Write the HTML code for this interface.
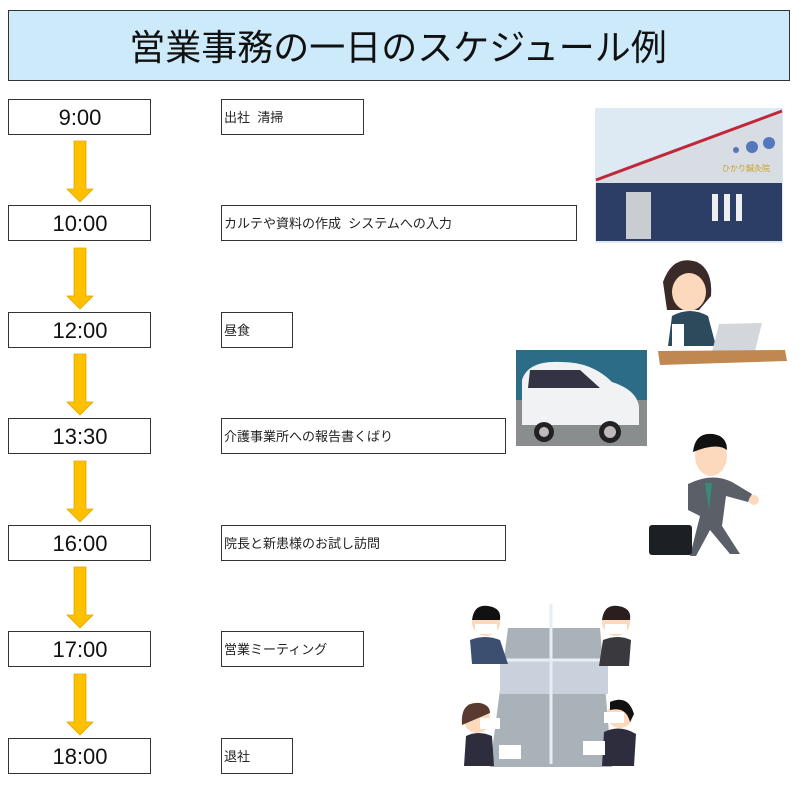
<!DOCTYPE html>
<html><head><meta charset="utf-8">
<style>
html,body{margin:0;padding:0;background:#fff;}
body{width:799px;height:786px;overflow:hidden;position:relative;font-family:"Liberation Sans","Noto Sans CJK JP",sans-serif;}
svg text{font-family:"Liberation Sans","Noto Sans CJK JP",sans-serif;}
</style></head><body>
<svg width="799" height="786" viewBox="0 0 799 786" xmlns="http://www.w3.org/2000/svg">
<rect x="8.5" y="10.5" width="781" height="70" fill="#cdeafb" stroke="#333" stroke-width="1"/>
<text x="398" y="60" font-size="36" text-anchor="middle" fill="#111">営業事務の一日のスケジュール例</text>

<g stroke="#333" stroke-width="1" fill="#fff">
<rect x="8.5" y="99.5" width="142" height="35"/>
<rect x="8.5" y="205.5" width="142" height="35"/>
<rect x="8.5" y="312.5" width="142" height="35"/>
<rect x="8.5" y="418.5" width="142" height="35"/>
<rect x="8.5" y="525.5" width="142" height="35"/>
<rect x="8.5" y="631.5" width="142" height="35"/>
<rect x="8.5" y="738.5" width="142" height="35"/>
<rect x="221.5" y="99.5" width="142" height="35"/>
<rect x="221.5" y="205.5" width="355" height="35"/>
<rect x="221.5" y="312.5" width="71" height="35"/>
<rect x="221.5" y="418.5" width="284" height="35"/>
<rect x="221.5" y="525.5" width="284" height="35"/>
<rect x="221.5" y="631.5" width="142" height="35"/>
<rect x="221.5" y="738.5" width="71" height="35"/>
</g>
<g font-size="22" text-anchor="middle" fill="#111">
<text x="80" y="125">9:00</text>
<text x="80" y="231">10:00</text>
<text x="80" y="338">12:00</text>
<text x="80" y="444">13:30</text>
<text x="80" y="551">16:00</text>
<text x="80" y="657">17:00</text>
<text x="80" y="764">18:00</text>
</g>
<g font-size="13" fill="#222">
<text x="224" y="122">出社&#160;&#160;清掃</text>
<text x="224" y="228">カルテや資料の作成&#160;&#160;システムへの入力</text>
<text x="224" y="335">昼食</text>
<text x="224" y="441">介護事業所への報告書くばり</text>
<text x="224" y="548">院長と新患様のお試し訪問</text>
<text x="224" y="654">営業ミーティング</text>
<text x="224" y="761">退社</text>
</g>
<g fill="#ffc000" stroke="#e0a800" stroke-width="0.8">
<path d="M74,141 h12 v48 h7 l-13,13 l-13,-13 h7 z"/>
<path d="M74,248 h12 v48 h7 l-13,13 l-13,-13 h7 z"/>
<path d="M74,354 h12 v48 h7 l-13,13 l-13,-13 h7 z"/>
<path d="M74,461 h12 v48 h7 l-13,13 l-13,-13 h7 z"/>
<path d="M74,567 h12 v48 h7 l-13,13 l-13,-13 h7 z"/>
<path d="M74,674 h12 v48 h7 l-13,13 l-13,-13 h7 z"/>
</g>

<!-- building -->
<rect x="595" y="108" width="188" height="135" fill="#dde9f3"/>
<polygon points="596,180 782,112 782,185 596,185" fill="#d8dde4"/>
<line x1="596" y1="180" x2="782" y2="111" stroke="#c0283a" stroke-width="3"/>
<rect x="596" y="183" width="186" height="58" fill="#2c3d66"/>
<rect x="626" y="192" width="25" height="47" fill="#c9ccd0"/>
<rect x="712" y="194" width="6" height="27" fill="#eee"/><rect x="724" y="194" width="6" height="27" fill="#eee"/><rect x="736" y="194" width="6" height="27" fill="#eee"/>
<circle cx="752" cy="147" r="6" fill="#5577bb"/><circle cx="769" cy="143" r="6" fill="#5577bb"/><circle cx="736" cy="150" r="3" fill="#5577bb"/>
<text x="722" y="171" font-size="8" fill="#c9a020">ひかり鍼灸院</text>

<!-- woman with laptop -->
<path d="M663,282 q10,-28 34,-20 q16,8 14,34 l-12,14 l-32,0 z" fill="#3a2a28"/>
<ellipse cx="689" cy="292" rx="17" ry="19" fill="#fcd9bd"/>
<path d="M672,316 q18,-10 36,0 l8,30 h-48 z" fill="#2d4a5c"/>
<rect x="672" y="324" width="12" height="24" fill="#fff"/>
<polygon points="719,324 762,323 755,351 712,352" fill="#d3d6da"/>
<polygon points="658,351 785,350 787,361 660,365" fill="#c08850"/>

<!-- car -->
<rect x="516" y="350" width="131" height="96" fill="#8a8d8e"/>
<rect x="516" y="350" width="131" height="50" fill="#2c6c86"/>
<path d="M522,380 q6,-20 40,-18 q30,0 50,20 q25,8 27,25 v18 h-117 z" fill="#f1f2f3"/>
<path d="M530,370 h50 l20,18 h-72 z" fill="#334"/>
<circle cx="544" cy="432" r="10" fill="#222"/><circle cx="610" cy="432" r="11" fill="#222"/>
<circle cx="544" cy="432" r="5" fill="#bbb"/><circle cx="610" cy="432" r="6" fill="#bbb"/>

<!-- running man -->
<ellipse cx="711" cy="456" rx="16" ry="20" fill="#fcd9bd"/>
<path d="M693,452 q2,-20 20,-18 q14,2 14,16 q-10,-8 -34,2z" fill="#111"/>
<path d="M688,484 q24,-12 44,-2 l20,12 l-4,8 l-22,-6 l-4,30 l18,28 h-10 l-20,-24 l-14,26 h-6 l10,-40 l-12,-6 z" fill="#5a5f68"/>
<polygon points="705,483 712,483 709,510" fill="#3a8a78"/>
<rect x="649" y="525" width="43" height="30" rx="3" fill="#1c2024"/>
<circle cx="754" cy="500" r="5" fill="#fcd9bd"/>

<!-- meeting -->
<polygon points="508,628 600,628 612,767 490,767" fill="#a8b2b8"/>
<rect x="500" y="660" width="108" height="34" fill="#c9d2dc"/>
<line x1="551" y1="604" x2="551" y2="764" stroke="#e6edf3" stroke-width="3"/>
<line x1="500" y1="660" x2="608" y2="660" stroke="#e6edf3" stroke-width="3"/>
<circle cx="486" cy="622" r="14" fill="#fcd9bd"/><path d="M472,620 q2,-16 16,-14 q14,2 12,14z" fill="#111"/>
<rect x="475" y="624" width="22" height="10" fill="#fff"/>
<path d="M470,640 q15,-6 30,0 l8,24 h-36 z" fill="#3d4f70"/>
<circle cx="616" cy="622" r="14" fill="#fcd9bd"/><path d="M602,620 q2,-16 16,-14 q14,2 12,14z" fill="#2a1e1e"/>
<rect x="605" y="624" width="22" height="10" fill="#fff"/>
<path d="M603,640 q15,-6 28,0 l-2,26 h-30 z" fill="#3a3a3e"/>
<circle cx="477" cy="720" r="13" fill="#fcd9bd"/><path d="M462,725 q-2,-24 18,-22 q10,2 10,10z" fill="#5a3a30"/>
<rect x="480" y="718" width="20" height="11" fill="#fff"/>
<path d="M466,736 q12,-6 26,0 l2,30 h-30 z" fill="#2d2d3e"/>
<circle cx="620" cy="715" r="13" fill="#fcd9bd"/><path d="M610,702 q18,-8 24,12 l-4,8 q-4,-16 -20,-12z" fill="#111"/>
<rect x="604" y="712" width="20" height="11" fill="#fff"/>
<path d="M604,732 q16,-8 32,2 l-2,32 h-32 z" fill="#2d2d3e"/>
<rect x="499" y="745" width="22" height="14" fill="#fff"/><rect x="583" y="741" width="22" height="14" fill="#fff"/>
</svg>
</body></html>
